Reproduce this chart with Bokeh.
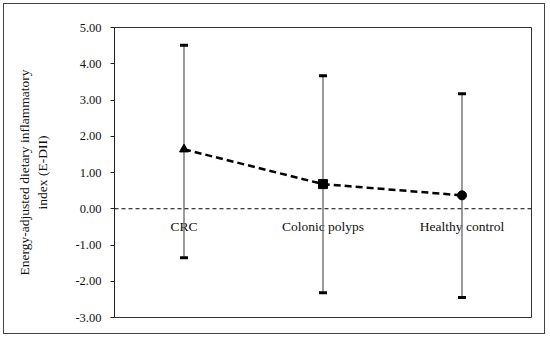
from bokeh.plotting import figure
from bokeh.models import ColumnDataSource, FactorRange, Range1d, NumeralTickFormatter, FixedTicker, Span
from bokeh.embed import file_html
from bokeh.resources import INLINE
from bokeh.core.properties import value

groups = ["CRC", "Colonic polyps", "Healthy control"]
means = [1.64, 0.68, 0.37]
upper = [4.51, 3.67, 3.17]
lower = [-1.35, -2.32, -2.45]
markers = ["triangle", "square", "circle"]
y_ticks = [-3, -2, -1, 0, 1, 2, 3, 4, 5]
reference_level = 0

FONT = "Liberation Serif"

src = ColumnDataSource(dict(g=groups, m=means, up=upper, lo=lower, mk=markers,
                            base=[reference_level] * len(groups)))

p = figure(width=542, height=331, x_range=FactorRange(*groups), y_range=Range1d(-3, 5),
           output_backend="svg", toolbar_location=None,
           min_border_left=110, min_border_right=15, min_border_top=23, min_border_bottom=18)
p.styles = {"border": "1px solid #444", "margin": "3px"}

p.xaxis.visible = False
p.xgrid.visible = False
p.ygrid.visible = False
p.outline_line_color = "#333333"
p.outline_line_width = 1

ya = p.yaxis[0]
ya.ticker = FixedTicker(ticks=y_ticks)
ya.formatter = NumeralTickFormatter(format="0.00")
ya.minor_tick_line_color = None
ya.major_tick_in = 0
ya.major_tick_out = 4
ya.axis_line_color = "#222222"
ya.major_tick_line_color = "#222222"
ya.major_label_text_font = FONT
ya.major_label_text_font_size = "12.5px"
ya.major_label_text_color = "#111111"
ya.major_label_standoff = 9
ya.axis_label = "Energy-adjusted dietary inflammatory\nindex (E-DII)"
ya.axis_label_text_font = FONT
ya.axis_label_text_font_size = "13.5px"
ya.axis_label_text_font_style = "normal"
ya.axis_label_text_color = "#111111"
ya.axis_label_standoff = 22

p.add_layout(Span(location=reference_level, dimension="width", line_color="black",
                  line_width=1, line_dash="4 3"))

p.text(x="g", y="base", text="g", source=src, text_align="center", text_baseline="middle",
       y_offset=18, text_font=value(FONT), text_font_size="13.5px", text_color="#111111")

p.segment(x0="g", y0="lo", x1="g", y1="up", source=src, line_color="#666666", line_width=1.3)
p.scatter(x="g", y="up", source=src, marker="dash", size=8, line_width=3, line_color="black")
p.scatter(x="g", y="lo", source=src, marker="dash", size=8, line_width=3, line_color="black")

p.line(x="g", y="m", source=src, line_color="black", line_width=2.5, line_dash="7 4")
p.scatter(x="g", y="m", source=src, marker="mk", size=9, color="black")

open("out.html", "w").write(file_html(p, INLINE))
